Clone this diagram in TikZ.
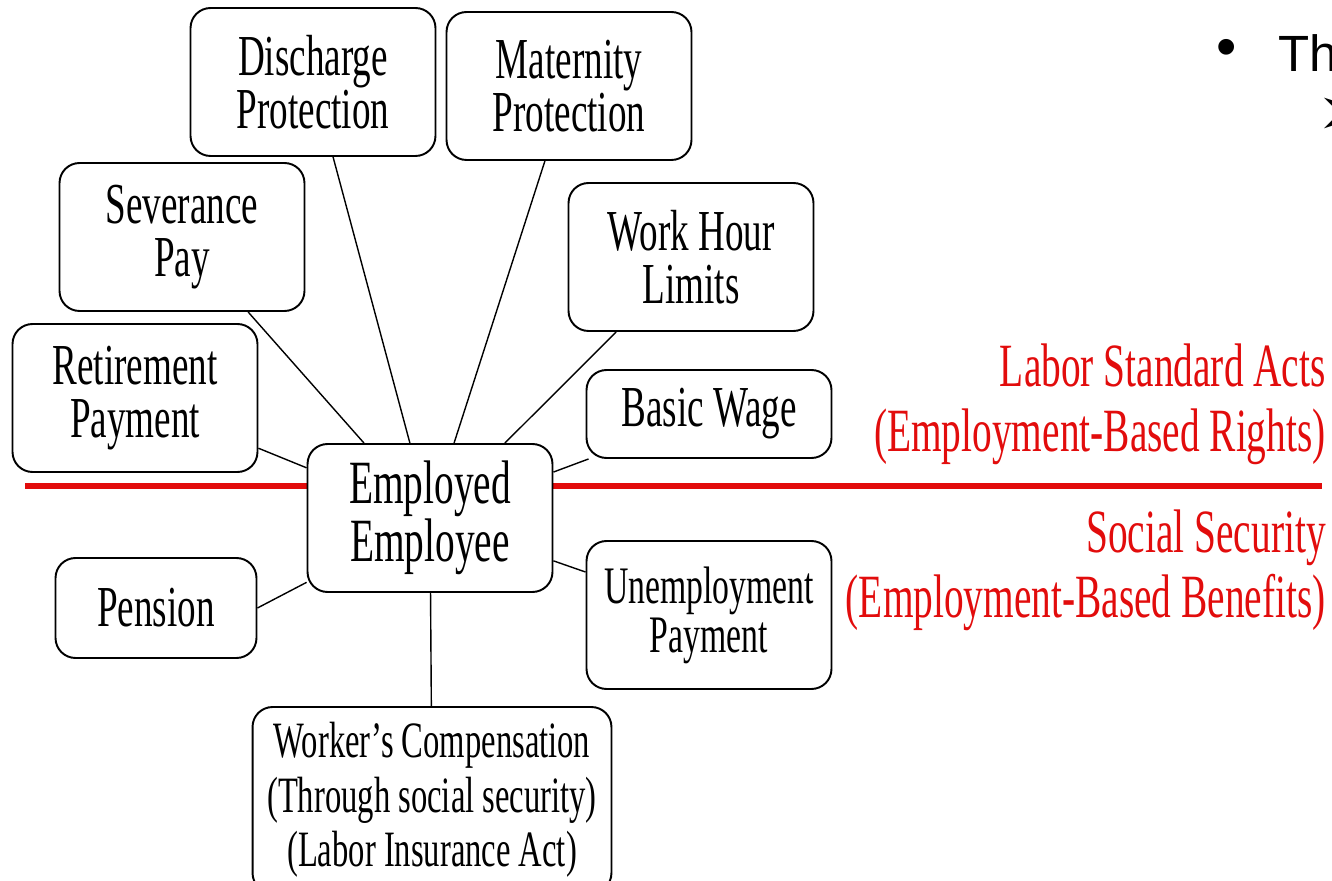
\documentclass[tikz,border=0pt]{standalone}
\usepackage{fontspec}
\setmainfont[FakeStretch=0.64]{Liberation Serif}
\newfontfamily\slidefont{Liberation Sans}
\newfontfamily\symfont{DejaVu Sans}
\definecolor{actred}{RGB}{226,12,12}
\begin{document}
\begin{tikzpicture}[x=0.02cm, y=-0.02cm,
        box/.style = {draw, line width=1.1pt, rounded corners=0.4cm, fill=white, align=center, inner sep=0pt,
            minimum width=4.9cm, minimum height=2.96cm, font=\fontsize{33}{30.5}\selectfont},
        lbl/.style = {text=actred, align=right, anchor=east, inner sep=0pt, font=\fontsize{35}{37}\selectfont}]
        \useasboundingbox (0,0) rectangle (1332,881);
        \coordinate (a) at (25,486);
        \coordinate (b) at (1322,486);
        \draw[actred, line width=3.4pt] (a) -- (b);
        \node[box, font=\fontsize{35}{31}\selectfont] (1) at (430,518) {Employed\\Employee};
        \node[box] (2) at (313,82) {Discharge\\Protection};
        \node[box] (3) at (569,86) {Maternity\\Protection};
        \node[box] (4) at (182,237) {Severance\\Pay};
        \node[box] (5) at (691,257) {Work Hour\\Limits};
        \node[box] (6) at (135,398) {Retirement\\Payment};
        \node[box, minimum height=1.76cm] (7) at (709,414) {Basic Wage};
        \node[box, minimum width=4.02cm, minimum height=2cm] (8) at (156,608) {Pension};
        \node[box, font=\fontsize{30}{28}\selectfont] (9) at (709,615) {Unemployment\\Payment};
        \node[box, minimum width=7.18cm, minimum height=3.72cm, font=\fontsize{29}{31}\selectfont] (10) at (432,800)
            {Worker's Compensation\\(Through social security)\\(Labor Insurance Act)};
        \node[lbl] (11) at (1326,404) {Labor Standard Acts\\(Employment-Based Rights)};
        \node[lbl] (12) at (1326,570) {Social Security\\(Employment-Based Benefits)};
        \node[font=\slidefont\fontsize{33}{33}\selectfont, inner sep=0pt] (13) at (1227,53) {\textbullet};
        \node[font=\slidefont\fontsize{29}{30}\selectfont, anchor=base west, inner sep=0pt] (14) at (1278,72) {The};
        \node[font=\symfont\fontsize{40}{40}\selectfont, anchor=west, inner sep=0pt] (15) at (1316,117) {➢};
        \draw[line width=0.8pt] (2) -- (1);
        \draw[line width=0.8pt] (3) -- (1);
        \draw[line width=0.8pt] (4) -- (1);
        \draw[line width=0.8pt] (5) -- (1);
        \draw[line width=0.8pt] (6) -- (1);
        \draw[line width=0.8pt] (7) -- (1);
        \draw[line width=0.8pt] (8.east) -- (1);
        \draw[line width=0.8pt] (9) -- (1);
        \draw[line width=0.8pt] (10) -- (1);
    \end{tikzpicture}
\end{document}
